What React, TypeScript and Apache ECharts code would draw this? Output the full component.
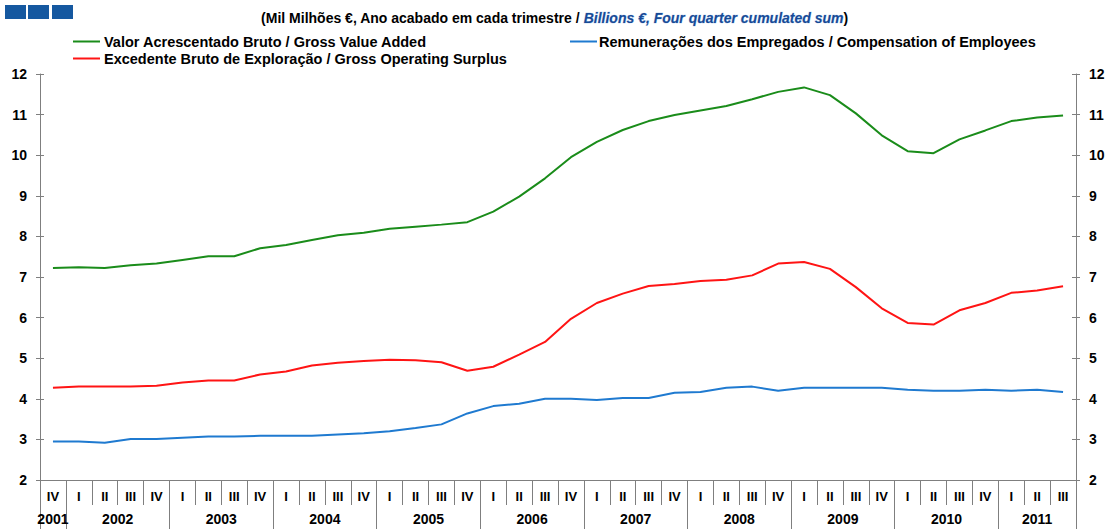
import React, { useEffect, useRef } from "react";
import * as echarts from "echarts";

const quarterLabels = [
  "IV",
  "I", "II", "III", "IV",
  "I", "II", "III", "IV",
  "I", "II", "III", "IV",
  "I", "II", "III", "IV",
  "I", "II", "III", "IV",
  "I", "II", "III", "IV",
  "I", "II", "III", "IV",
  "I", "II", "III", "IV",
  "I", "II", "III", "IV",
  "I", "II", "III",
];

const yearLabels = ["2001", "2002", "2003", "2004", "2005", "2006", "2007", "2008", "2009", "2010", "2011"];
const quartersInYear = [1, 4, 4, 4, 4, 4, 4, 4, 4, 4, 3];

const gvaValues = [
  7.22, 7.24, 7.22, 7.29, 7.33, 7.42, 7.51, 7.51, 7.71, 7.79,
  7.91, 8.03, 8.09, 8.19, 8.24, 8.29, 8.35, 8.61, 8.98, 9.43,
  9.95, 10.33, 10.62, 10.84, 10.99, 11.1, 11.21, 11.38, 11.56, 11.67,
  11.48, 11.03, 10.49, 10.1, 10.05, 10.39, 10.61, 10.84, 10.93, 10.98,
];

const gosValues = [
  4.27, 4.3, 4.3, 4.3, 4.32, 4.4, 4.45, 4.45, 4.6, 4.67,
  4.82, 4.89, 4.93, 4.96, 4.95, 4.9, 4.69, 4.79, 5.09, 5.4,
  5.97, 6.36, 6.59, 6.78, 6.83, 6.9, 6.93, 7.04, 7.33, 7.37,
  7.2, 6.75, 6.23, 5.87, 5.83, 6.18, 6.36, 6.61, 6.67, 6.77,
];

const coeValues = [
  2.95, 2.95, 2.92, 3.01, 3.01, 3.04, 3.07, 3.07, 3.09, 3.09,
  3.09, 3.12, 3.15, 3.2, 3.28, 3.37, 3.64, 3.82, 3.88, 4.0,
  4.0, 3.97, 4.02, 4.02, 4.15, 4.17, 4.27, 4.3, 4.2, 4.27,
  4.27, 4.27, 4.27, 4.22, 4.2, 4.2, 4.22, 4.2, 4.22, 4.17,
];

const seriesNames = [
  "Valor Acrescentado Bruto / Gross Value Added",
  "Excedente Bruto de Exploração / Gross Operating Surplus",
  "Remunerações dos Empregados / Compensation of Employees",
];

const titleMain = "(Mil Milhões €, Ano acabado em cada trimestre / ";
const titleEn = "Billions €, Four quarter cumulated sum";

const FONT = "'Liberation Sans', Arial, sans-serif";
const AXIS_GRAY = "#7f7f7f";

export default function App() {
  const ref = useRef<HTMLDivElement>(null);

  useEffect(() => {
    if (!ref.current) return;
    const chart = echarts.init(ref.current, undefined, { renderer: "svg" });

    // half-category year axis: 2*N + 1 points
    const n = quarterLabels.length;
    const yearAxisData: string[] = new Array(2 * n + 1).fill("");
    const boundaries = new Set<number>();
    let start = 0;
    yearLabels.forEach((y, k) => {
      const cnt = quartersInYear[k];
      boundaries.add(2 * start);
      yearAxisData[2 * start + cnt] = y;
      start += cnt;
    });
    boundaries.add(2 * start);

    const yLabel = { fontFamily: FONT, fontWeight: "bold" as const, fontSize: 14, color: "#000" };
    const legendText = { fontFamily: FONT, fontWeight: "bold" as const, fontSize: 14.5, color: "#000" };

    chart.setOption({
      animation: false,
      backgroundColor: "#fff",
      title: {
        left: "center",
        top: 6,
        text: `{a|${titleMain}}{b|${titleEn}}{a|)}`,
        textStyle: {
          rich: {
            a: { fontFamily: FONT, fontWeight: "bold", fontSize: 14, color: "#000" },
            b: {
              fontFamily: FONT,
              fontWeight: "bold",
              fontStyle: "italic",
              fontSize: 14,
              color: "#174a96",
              textBorderColor: "#a9c9ec",
              textBorderWidth: 0.6,
            },
          },
        },
      },
      graphic: [
        { type: "rect", shape: { x: 5, y: 5, width: 21, height: 14 }, style: { fill: "#1558a0" } },
        { type: "rect", shape: { x: 28, y: 5, width: 21, height: 14 }, style: { fill: "#1558a0" } },
        { type: "rect", shape: { x: 52, y: 5, width: 21, height: 14 }, style: { fill: "#1558a0" } },
      ],
      legend: [
        {
          data: [seriesNames[0], seriesNames[1]],
          orient: "vertical",
          left: 68,
          top: 29,
          itemWidth: 27,
          itemHeight: 2,
          itemGap: 2,
          icon: "rect",
          textStyle: { ...legendText, padding: [0, 0, 0, -1] },
        },
        {
          data: [seriesNames[2]],
          orient: "vertical",
          left: 565,
          top: 29,
          itemWidth: 27,
          itemHeight: 2,
          itemGap: 2,
          icon: "rect",
          textStyle: { ...legendText, padding: [0, 0, 0, -3] },
        },
      ],
      grid: { left: 40, top: 74, width: 1036, height: 406, containLabel: false },
      xAxis: [
        {
          type: "category",
          data: quarterLabels,
          position: "bottom",
          boundaryGap: true,
          axisLine: { show: true, lineStyle: { color: AXIS_GRAY, width: 1 } },
          axisTick: { show: true, interval: 0, length: 25, lineStyle: { color: AXIS_GRAY } },
          axisLabel: { interval: 0, margin: 10, fontFamily: FONT, fontWeight: "bold", fontSize: 13, color: "#000" },
          splitLine: { show: false },
        },
        {
          type: "category",
          data: yearAxisData,
          position: "bottom",
          offset: 25,
          boundaryGap: false,
          axisLine: { show: false },
          axisTick: {
            show: true,
            interval: (idx: number) => boundaries.has(idx),
            length: 24,
            lineStyle: { color: AXIS_GRAY },
          },
          axisLabel: { interval: 0, margin: 7, fontFamily: FONT, fontWeight: "bold", fontSize: 14, color: "#000" },
          splitLine: { show: false },
        },
      ],
      yAxis: [
        {
          type: "value",
          position: "left",
          min: 2,
          max: 12,
          interval: 1,
          axisLine: { show: true, lineStyle: { color: AXIS_GRAY } },
          axisTick: { show: true, length: 4, lineStyle: { color: AXIS_GRAY } },
          axisLabel: { ...yLabel, margin: 13 },
          splitLine: { show: false },
        },
        {
          type: "value",
          position: "right",
          min: 2,
          max: 12,
          interval: 1,
          axisLine: { show: true, lineStyle: { color: AXIS_GRAY } },
          axisTick: { show: true, length: 4, lineStyle: { color: AXIS_GRAY } },
          axisLabel: { ...yLabel, margin: 13 },
          splitLine: { show: false },
        },
        {
          type: "value",
          position: "left",
          min: 2,
          max: 12,
          interval: 1,
          axisLine: { show: false },
          axisTick: { show: true, inside: true, length: 4, lineStyle: { color: AXIS_GRAY } },
          axisLabel: { show: false },
          splitLine: { show: false },
        },
        {
          type: "value",
          position: "right",
          min: 2,
          max: 12,
          interval: 1,
          axisLine: { show: false },
          axisTick: { show: true, inside: true, length: 4, lineStyle: { color: AXIS_GRAY } },
          axisLabel: { show: false },
          splitLine: { show: false },
        },
      ],
      series: [
        {
          name: seriesNames[0],
          type: "line",
          data: gvaValues,
          symbol: "none",
          color: "#1a8c1a",
          lineStyle: { width: 2, color: "#1a8c1a" },
        },
        {
          name: seriesNames[1],
          type: "line",
          data: gosValues,
          symbol: "none",
          color: "#ff1414",
          lineStyle: { width: 2, color: "#ff1414" },
        },
        {
          name: seriesNames[2],
          type: "line",
          data: coeValues,
          symbol: "none",
          color: "#1f7ad0",
          lineStyle: { width: 2, color: "#1f7ad0" },
        },
      ],
    });

    return () => chart.dispose();
  }, []);

  return (
    <div
      ref={ref}
      style={{ position: "absolute", left: 0, top: 0, width: 1109, height: 529, background: "#fff" }}
    />
  );
}
